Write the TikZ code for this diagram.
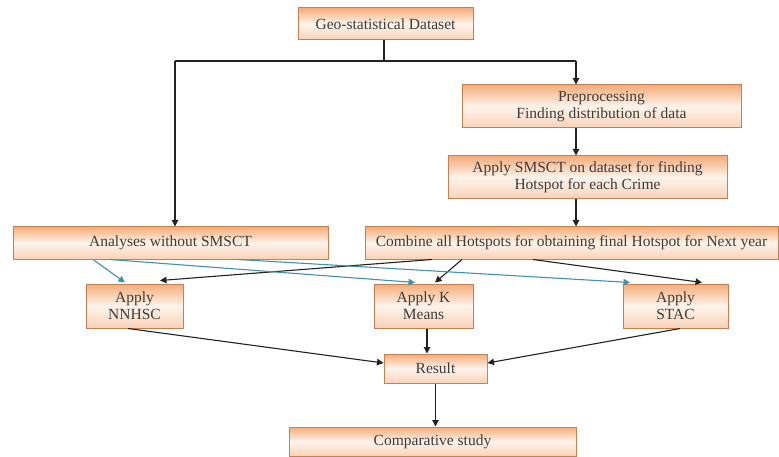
\documentclass[tikz,border=0pt]{standalone}
\usepackage{fontspec}
\setmainfont{Liberation Serif}
\usetikzlibrary{arrows.meta,calc}
\definecolor{orTop}{RGB}{245,172,122}
\definecolor{orMid}{RGB}{254,244,236}
\definecolor{orBot}{RGB}{249,210,182}
\definecolor{orEdge}{RGB}{200,128,80}
\definecolor{txt}{RGB}{60,60,60}
\definecolor{lnk}{RGB}{34,34,34}
\definecolor{teal}{RGB}{62,146,174}
\tikzset{
  box/.style={draw=orEdge, line width=1pt, top color=orTop, bottom color=orBot, middle color=orMid,
    rectangle, inner sep=0pt, text=txt, align=center,
    font=\fontsize{15.5}{17}\selectfont},
  arr/.style={draw=lnk, line width=1.1pt, -{Triangle[length=6.5pt,width=6.5pt]}},
  tarr/.style={draw=teal, line width=1.1pt, -{Triangle[length=6.5pt,width=6.5pt]}},
  ln/.style={draw=lnk, line width=1.1pt},
}
\begin{document}
\begin{tikzpicture}[x=1pt,y=-1pt]
\useasboundingbox (0,0) rectangle (779,457);
% nodes
\node[box, minimum width=175pt, minimum height=32pt] (geo) at (385.5,24) {Geo-statistical Dataset};
\node[box, minimum width=279pt, minimum height=43pt] (pre) at (601.5,106.5) {Preprocessing\\Finding distribution of data};
\node[box, minimum width=279pt, minimum height=43pt] (smsct) at (587.5,177.5) {Apply SMSCT on dataset for finding\\Hotspot for each Crime};
\node[box, minimum width=315pt, minimum height=32pt] (ana) at (170.5,243) {Analyses without SMSCT};
\node[box, minimum width=413pt, minimum height=32pt] (comb) at (571.5,243) {Combine all Hotspots for obtaining final Hotspot for Next year};
\node[box, minimum width=97pt, minimum height=44pt] (nn) at (134.5,306) {Apply\\NNHSC};
\node[box, minimum width=99pt, minimum height=44pt] (km) at (423.5,306) {Apply K\\Means};
\node[box, minimum width=105pt, minimum height=44pt] (stac) at (675.5,306) {Apply\\STAC};
\node[box, minimum width=103pt, minimum height=29pt] (res) at (435.5,368.5) {Result};
\node[box, minimum width=287pt, minimum height=29pt] (comp) at (432.5,441.5) {Comparative study};
% junction coordinates
\coordinate (j) at (384,61);
\coordinate (cl) at (175,61);
\coordinate (cr) at (576,61);
% top split
\draw[ln] ([xshift=-1.5pt]geo.south) -- (j);
\draw[ln] (cl) -- (cr);
\draw[arr] (cl) -- (ana.north -| cl);
\draw[arr] (cr) -- (pre.north -| cr);
\draw[arr] (pre.south -| cr) -- (smsct.north -| cr);
\draw[arr] (smsct.south -| cr) -- (comb.north -| cr);
% combine to methods
\draw[arr] ([xshift=-139.5pt]comb.south) -- ([xshift=25.5pt,yshift=3pt]nn.north);
\draw[arr] ([xshift=-109.5pt]comb.south) -- ([xshift=11.5pt,yshift=1pt]km.north);
\draw[arr] ([xshift=-38.5pt]comb.south) -- ([xshift=26.5pt,yshift=1pt]stac.north);
% analyses to methods
\draw[tarr] ([xshift=-77.5pt]ana.south) -- ([xshift=-9.5pt,yshift=1pt]nn.north);
\draw[tarr] ([xshift=-60.5pt]ana.south) -- ([xshift=-8.5pt,yshift=1pt]km.north);
\draw[tarr] ([xshift=67.5pt]ana.south) -- ([xshift=-45.5pt,yshift=1pt]stac.north);
% methods to result
\draw[arr] ([xshift=3.5pt]km.south) -- ([xshift=-8.5pt]res.north);
\draw[arr] ([xshift=-6.5pt]nn.south) -- ([yshift=5.5pt]res.west);
\draw[arr] ([xshift=4.5pt]stac.south) -- ([yshift=5.5pt]res.east);
\draw[arr] (res.south) -- (res.south |- comp.north);
\end{tikzpicture}
\end{document}
